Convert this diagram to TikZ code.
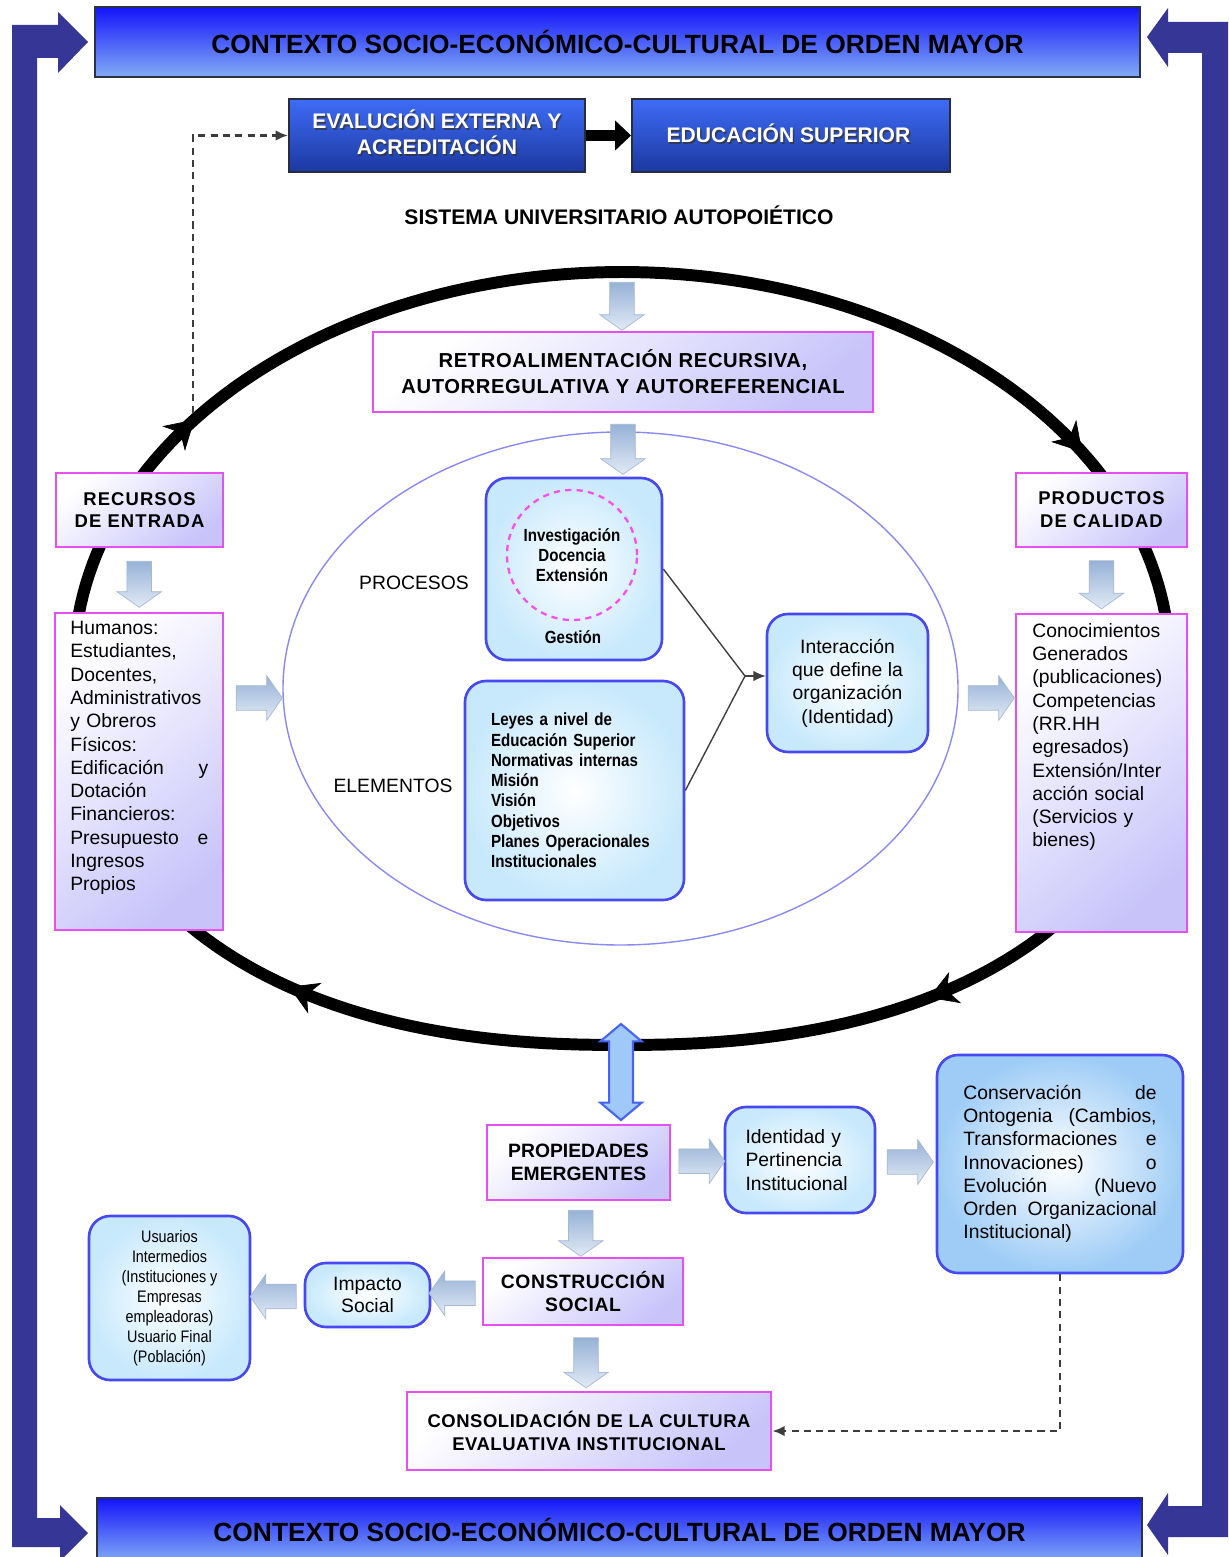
\documentclass[tikz,border=0pt]{standalone}
\usepackage{fontspec}
\setmainfont{Liberation Sans}
\newfontfamily\tightcaps[LetterSpace=3]{Liberation Sans}
\newfontfamily\widecaps[LetterSpace=6]{Liberation Sans}
\newfontfamily\narrowsans[FakeStretch=0.86]{Liberation Sans}
\usetikzlibrary{shapes.geometric,shapes.arrows,arrows.meta,decorations.markings,calc}

\definecolor{framec}{RGB}{54,54,150}
\definecolor{bantop}{RGB}{20,20,250}
\definecolor{banbot}{RGB}{130,172,246}
\definecolor{banedge}{RGB}{44,50,70}
\definecolor{hdtop}{RGB}{62,108,246}
\definecolor{hdbot}{RGB}{28,56,160}
\definecolor{hdedge}{RGB}{40,44,64}
\definecolor{magc}{RGB}{230,80,240}
\definecolor{lavc}{RGB}{200,196,250}
\definecolor{bedge}{RGB}{72,72,240}
\definecolor{bfill}{RGB}{200,233,252}
\definecolor{bfilldeep}{RGB}{158,204,246}
\definecolor{arlight}{RGB}{226,234,246}
\definecolor{ardark}{RGB}{150,178,214}
\definecolor{aredge}{RGB}{168,184,210}
\definecolor{dblfill}{RGB}{160,200,248}
\definecolor{dbledge}{RGB}{70,100,240}
\definecolor{ringc}{RGB}{138,138,245}
\definecolor{dashc}{RGB}{60,60,60}
\definecolor{pinkc}{RGB}{245,80,235}

\tikzset{looptip/.tip={Stealth[length=16pt,width=19pt,inset=5pt,line width=0.4pt]}}

\begin{document}
\begin{tikzpicture}[x=0.02cm, y=-0.02cm,
  sz/.style 2 args={minimum width=#1*0.02cm, minimum height=#2*0.02cm},
  banner/.style={draw=banedge, line width=1.2pt, top color=bantop, bottom color=banbot,
    inner sep=0pt, font=\bfseries\fontsize{15}{18}\selectfont},
  headbox/.style={draw=hdedge, line width=1.2pt, top color=hdtop, bottom color=hdbot, inner sep=0pt},
  headtext/.style={text=white, align=center, inner sep=0pt, font=\bfseries\fontsize{12}{14.8}\selectfont},
  headshade/.style={text=black!80, opacity=0.75, align=center, inner sep=0pt, font=\bfseries\fontsize{12}{14.8}\selectfont},
  magbox/.style={draw=magc, line width=1.6pt, top color=white, bottom color=lavc, shading angle=40,
    inner sep=0pt, align=center},
  roundbox/.style={draw=bedge, line width=1.5pt, rounded corners=12pt, inner color=white,
    outer color=bfill, inner sep=0pt},
  plain/.style={inner sep=0pt, font=\fontsize{11}{13.25}\selectfont},
  blockarrow/.style={single arrow, draw=aredge, line width=0.4pt, top color=ardark, bottom color=arlight,
    single arrow head extend=5.7pt, single arrow tip angle=110, inner xsep=0pt, inner ysep=6.8pt,
    minimum width=0pt, minimum height=#1*0.02cm},
  linkline/.style={draw=black!75, line width=0.8pt},
  dashlink/.style={draw=dashc, line width=1.3pt, dash pattern=on 4pt off 3pt,
    -{Latex[length=7pt,width=6pt]}}
]

\clip (0,0) rectangle (1228,1557);
\fill[white] (0,0) rectangle (1228,1557);

% outer frame arrows
\fill[framec] (12,1547) -- (12,25) -- (58,25) -- (58,12) -- (88,42) -- (58,73) -- (58,58)
  -- (37,58) -- (37,1518) -- (60,1518) -- (60,1505) -- (88,1533) -- (60,1561) -- (60,1547) -- cycle;
\fill[framec] (1230,22) -- (1168,22) -- (1168,8) -- (1147,37) -- (1168,67) -- (1168,53)
  -- (1202,53) -- (1202,1506) -- (1168,1506) -- (1168,1493) -- (1147,1525) -- (1168,1555)
  -- (1168,1537) -- (1230,1537) -- cycle;

% context banners
\node[banner, sz={1045}{70}] (topban) at (617.5,42) {CONTEXTO SOCIO-ECONÓMICO-CULTURAL DE ORDEN MAYOR};
\node[banner, sz={1045}{64}] (botban) at (619.5,1530) {CONTEXTO SOCIO-ECONÓMICO-CULTURAL DE ORDEN MAYOR};

% external evaluation and higher education
\node[headbox, sz={296}{73}] (eval) at (437,135.5) {};
\node[headbox, sz={318}{73}] (edu) at (791,135.5) {};
\node[headshade] (evalshade) at (438.5,134) {EVALUCIÓN EXTERNA Y\\ACREDITACIÓN};
\node[headtext] (evaltext) at (437,132.5) {EVALUCIÓN EXTERNA Y\\ACREDITACIÓN};
\node[headshade] (edushade) at (790,135) {EDUCACIÓN SUPERIOR};
\node[headtext] (edutext) at (788.5,133.5) {EDUCACIÓN SUPERIOR};
\draw[line width=6.5pt, -{Triangle[length=9pt,width=17pt,line width=0.4pt]}] (eval.east) -- (edu.west);

\node[inner sep=0pt, font=\bfseries\fontsize{12}{14}\selectfont] (sist) at (619,215) {SISTEMA UNIVERSITARIO AUTOPOIÉTICO};

% autopoietic loop
\draw[line width=6.8pt, line join=round,
  decoration={markings,
    mark=at position 0.147 with {\arrow{looptip}},
    mark=at position 0.365 with {\arrow{looptip}},
    mark=at position 0.597 with {\arrow{looptip}},
    mark=at position 0.921 with {\arrow{looptip}}},
  postaction={decorate}]
  plot[domain=0:180, samples=121, variable=\t]
    ({622+548*cos(\t)*(abs(cos(\t))+0.00001)^(-0.13)}, {666+379*abs(sin(\t))*(abs(sin(\t))+0.00001)^(-0.13)})
  -- plot[domain=180:360, samples=121, variable=\t] ({622+548*cos(\t)}, {666+394*sin(\t)}) -- cycle;

% inner organisation
\node[ellipse, draw=ringc, line width=0.8pt, sz={675}{513}, inner sep=0pt] (inner) at (620.5,688.5) {};

\node[magbox, sz={500}{80}, font=\tightcaps\bfseries\fontsize{11.5}{14.8}\selectfont] (retro) at (623,372)
  {RETROALIMENTACIÓN RECURSIVA,\\AUTORREGULATIVA Y AUTOREFERENCIAL};

\node[roundbox, sz={176}{182}] (proc) at (574,569) {};
\node[circle, draw=pinkc, line width=1.3pt, dash pattern=on 3.5pt off 3pt, minimum size=130*0.02cm,
  inner sep=0pt, align=center, font=\narrowsans\bfseries\fontsize{10}{11.4}\selectfont] (ring) at (572,555)
  {Investigación\\Docencia\\Extensión};
\node[inner sep=0pt, font=\narrowsans\bfseries\fontsize{10}{12}\selectfont] (gest) at (573,637) {Gestión};
\node[plain] (proclabel) at (414,583) {PROCESOS};

\node[roundbox, sz={219}{219}, text width=95pt, align=left,
  font=\narrowsans\bfseries\fontsize{10}{11.55}\selectfont] (elem) at (574.5,790.5)
  {Leyes a nivel de\\Educación Superior\\Normativas internas\\Misión\\Visión\\Objetivos\\Planes Operacionales\\Institucionales};
\node[plain] (elemlabel) at (393,786) {ELEMENTOS};

\node[roundbox, sz={161}{138}, align=center, font=\fontsize{11}{13.25}\selectfont] (inter) at (847.5,683)
  {Interacción\\que define la\\organización\\(Identidad)};

\coordinate (join) at (745,676);
\draw[linkline] (proc.east) -- (join);
\draw[linkline] (elem.east) -- (join);
\draw[linkline, -{Latex[length=7pt,width=6pt]}] (join) -- (join -| inter.west);

% inputs
\node[magbox, sz={167}{74}, font=\widecaps\bfseries\fontsize{10.5}{13}\selectfont] (rec) at (139.5,510)
  {RECURSOS\\DE ENTRADA};
\node[magbox, sz={168}{317}] (hum) at (139,771.5) {};
\node[plain, anchor=north west, text width=78.5pt, align=left] (humtext) at (70,621)
  {Humanos:\\Estudiantes,\\Docentes,\\Administrativos\\y Obreros\\Físicos:\\Edificación\hfill y\\Dotación\\Financieros:\\Presupuesto\hfill e\\Ingresos\\Propios};

% outputs
\node[magbox, sz={171}{74}, font=\widecaps\bfseries\fontsize{10.5}{13}\selectfont] (prod) at (1101.5,510)
  {PRODUCTOS\\DE CALIDAD};
\node[magbox, sz={171}{318}] (con) at (1101.5,773) {};
\node[plain, anchor=north west, text width=78pt, align=left] (context) at (1032,623)
  {Conocimientos\\Generados\\(publicaciones)\\Competencias\\(RR.HH\\egresados)\\Extensión/Inter\\acción social\\(Servicios y\\bienes)};

% emergent properties and social construction
\node[magbox, sz={183}{75}, font=\bfseries\fontsize{11}{13.2}\selectfont] (prop) at (578.5,1162.5)
  {PROPIEDADES\\EMERGENTES};
\node[roundbox, sz={150}{106}, text width=62pt, align=left, font=\fontsize{11}{13.25}\selectfont] (ident) at (800,1160)
  {Identidad y\\Pertinencia\\Institucional};
\node[roundbox, outer color=bfilldeep, sz={246}{218}, text width=110pt, align=left,
  font=\fontsize{11}{13.25}\selectfont] (cons) at (1060,1164)
  {Conservación\hfill de\\Ontogenia\hfill (Cambios,\\Transformaciones\hfill e\\Innovaciones)\hfill o\\Evolución\hfill (Nuevo\\Orden\hfill Organizacional\\Institucional)};
\node[magbox, sz={200}{67}, font=\tightcaps\bfseries\fontsize{11}{12.6}\selectfont] (constr) at (583,1291.5)
  {CONSTRUCCIÓN\\SOCIAL};
\node[roundbox, sz={125}{64}, align=center, font=\fontsize{11}{13}\selectfont] (impact) at (367.5,1295)
  {Impacto\\Social};
\node[roundbox, sz={161}{164}, align=center, font=\narrowsans\fontsize{9.5}{11.4}\selectfont] (usu) at (169.5,1298)
  {Usuarios\\Intermedios\\(Instituciones y\\Empresas\\empleadoras)\\Usuario Final\\(Población)};
\node[magbox, sz={364}{78}, font=\tightcaps\bfseries\fontsize{10.5}{13}\selectfont] (consol) at (589,1431)
  {CONSOLIDACIÓN DE LA CULTURA\\EVALUATIVA INSTITUCIONAL};

% block arrows
\node[blockarrow=48, rotate=-90] (arw1) at (622,302) {};
\node[blockarrow=50, rotate=-90] (arw2) at ($(retro.south)!0.5!(retro.south |- proc.north)$) {};
\node[blockarrow=46, rotate=-90] (arw3) at ($(rec.south)!0.5!(hum.north)$) {};
\node[blockarrow=46] (arw4) at (255,698) {};
\node[blockarrow=48, rotate=-90] (arw5) at ($(prod.south)!0.5!(con.north)$) {};
\node[blockarrow=46] (arw6) at (987,698) {};
\node[blockarrow=46] (arw7) at ($(prop.east)!0.5!(ident.west)$) {};
\node[blockarrow=46] (arw8) at ($(ident.east)!0.5!(cons.west)$) {};
\node[blockarrow=46, rotate=-90] (arw9) at ($(prop.south)!0.5!(constr.north)$) {};
\node[blockarrow=46, rotate=180] (arw10) at ($(constr.west)!0.5!(impact.east)$) {};
\node[blockarrow=46, rotate=180] (arw11) at ($(impact.west)!0.5!(usu.east)$) {};
\node[blockarrow=50, rotate=-90] (arw12) at ($(constr.south)!0.5!(consol.north)$) {};
\node[double arrow, draw=dbledge, fill=dblfill, line width=1.2pt, double arrow head extend=5pt,
  double arrow tip angle=100, inner xsep=0pt, inner ysep=6.2pt, minimum width=0pt,
  minimum height=96*0.02cm, rotate=90] (loopdbl) at (621,1072) {};

% dashed feedback links
\coordinate (evfoot) at (193,413);
\draw[dashlink] (evfoot) |- (eval.west);
\draw[dashlink] (cons.south) |- (consol.east);

\end{tikzpicture}
\end{document}
